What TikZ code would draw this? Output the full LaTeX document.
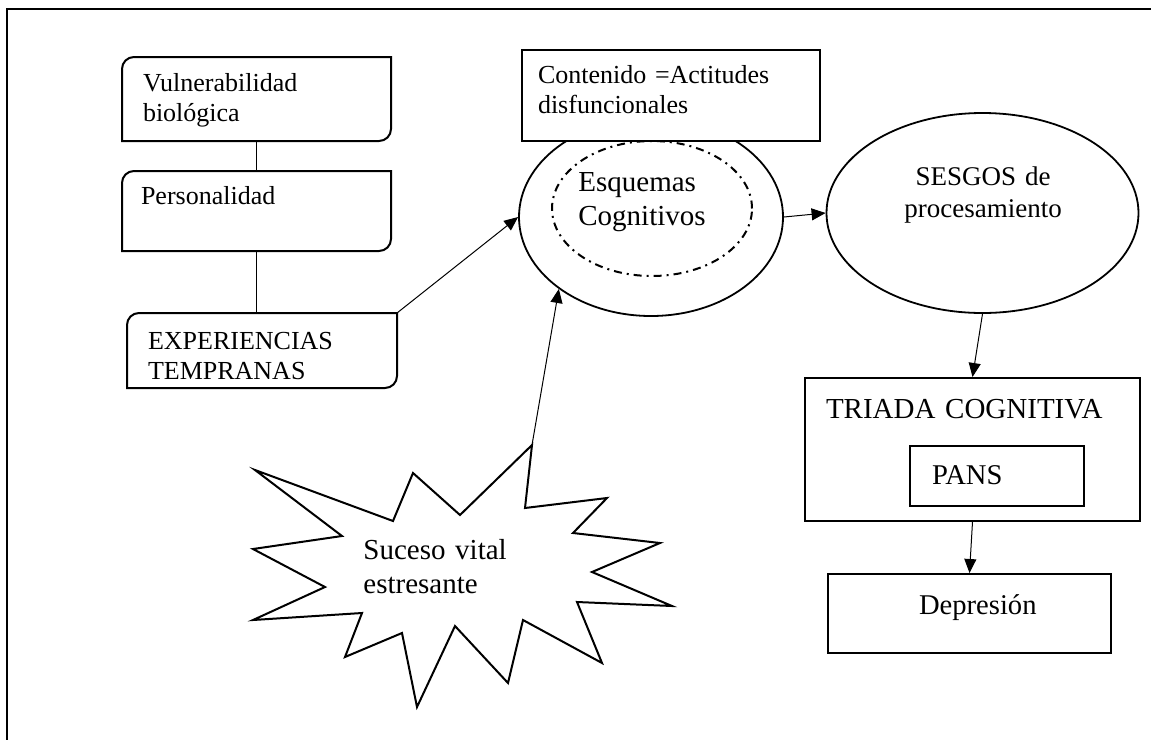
\documentclass[tikz,border=0pt]{standalone}
\usepackage{fontspec}
\setmainfont{Liberation Serif}
\usetikzlibrary{arrows.meta,shapes.geometric}
\tikzset{
  boxtext/.style={anchor=north west, inner ysep=0pt, align=left, line width=1pt, font=\fontsize{13}{15}\selectfont},
  sqbox/.style={boxtext, draw, fill=white},
  bigtext/.style={font=\fontsize{14.5}{17}\selectfont},
  plaintext/.style={inner sep=0pt, align=left},
  oval/.style={draw, ellipse, line width=0.9pt, inner sep=0pt},
  link/.style={line width=0.5pt},
  conn/.style={line width=0.5pt, -{Triangle[length=7pt,width=6pt]}}
}
\newcommand\diagframe[1]{\draw[line width=1pt] ([yshift=-6pt]#1.north west) arc[start angle=180,end angle=90,radius=6pt] -- (#1.north east) -- ([yshift=6pt]#1.south east) arc[start angle=0,end angle=-90,radius=6pt] -- (#1.south west) -- cycle;}
\begin{document}
\begin{tikzpicture}[x=0.5pt,y=-0.5pt]
\useasboundingbox (0,0) rectangle (1151,740);
\draw[line width=1.1pt] (1151,9) -- (7,9) -- (7,740);
\node[boxtext, text width=113.5pt, inner xsep=10pt, text height=16.5pt, text depth=24.5pt] (vb) at (122,57) {Vulnerabilidad\\biológica};
\node[boxtext, text width=115.5pt, inner xsep=9pt, text height=16pt, text depth=23pt] (per) at (122,171) {Personalidad};
\node[boxtext, text width=114pt, inner xsep=10pt, text height=17.5pt, text depth=19pt] (exp) at (127,313) {EXPERIENCIAS\\TEMPRANAS};
\diagframe{vb}
\diagframe{per}
\diagframe{exp}
\draw[link] (vb.south) -- (per.north);
\draw[link] (per.south) -- (per.south |- exp.north);
\node[oval, minimum width=132pt, minimum height=99pt] (esq) at (651,217) {};
\node[draw, ellipse, line width=1pt, dash pattern=on 4pt off 2.5pt on 1pt off 2.5pt, minimum width=100pt, minimum height=67.5pt] (esqin) at (652,208.5) {};
\node[plaintext, bigtext, anchor=base west, text width=70pt] (esqtxt) at (578,191) {Esquemas\\Cognitivos};
\node[sqbox, text width=133pt, inner xsep=8pt, text height=16.5pt, text depth=29pt] (cont) at (521,49) {Contenido =Actitudes\\disfuncionales};
\node[oval, minimum width=156pt, minimum height=100pt] (ses) at (982.5,213) {};
\node[plaintext, anchor=base, align=center, text width=90pt, font=\fontsize{13.5}{16}\selectfont] (sestxt) at (983,185) {SESGOS de\\procesamiento};
\node[sqbox, bigtext, text width=146.5pt, inner xsep=10.5pt, text height=20pt, text depth=51.5pt] (tri) at (804,377) {TRIADA COGNITIVA};
\node[sqbox, font=\fontsize{14.3}{17}\selectfont, text width=65pt, inner xsep=11pt, text height=19pt, text depth=11pt] (pans) at (909,445) {PANS};
\node[sqbox, font=\fontsize{14.3}{17}\selectfont, text width=125.5pt, inner xsep=8pt, text height=20pt, text depth=19.5pt] (dep) at (827,573) {\hspace*{37.5pt}Depresión};
\draw[line width=1pt] (255,470) -- (393,521) -- (413,473) -- (460,515) -- (532,445) -- (525,508) -- (607,498) -- (573,533) -- (660,543) -- (592,572) -- (672,606) -- (577,602) -- (602,663) -- (523,620) -- (508,683) -- (455,626) -- (417,707) -- (402,633) -- (345,657) -- (362,613) -- (253,620) -- (325,587) -- (253,549) -- (342,536) -- cycle;
\coordinate (suctip) at (532,445);
\node[plaintext, bigtext, anchor=base west, text width=90pt] (suc) at (363,559) {Suceso vital\\estresante};
\draw[conn] (exp.north east) -- (esq.west);
\draw[conn] (suctip) -- (esq.218);
\draw[conn] (esq.east) -- (ses.west);
\draw[conn] (ses.south) -- (tri.north);
\draw[conn] (tri.south) -- (dep.north);
\end{tikzpicture}
\end{document}
